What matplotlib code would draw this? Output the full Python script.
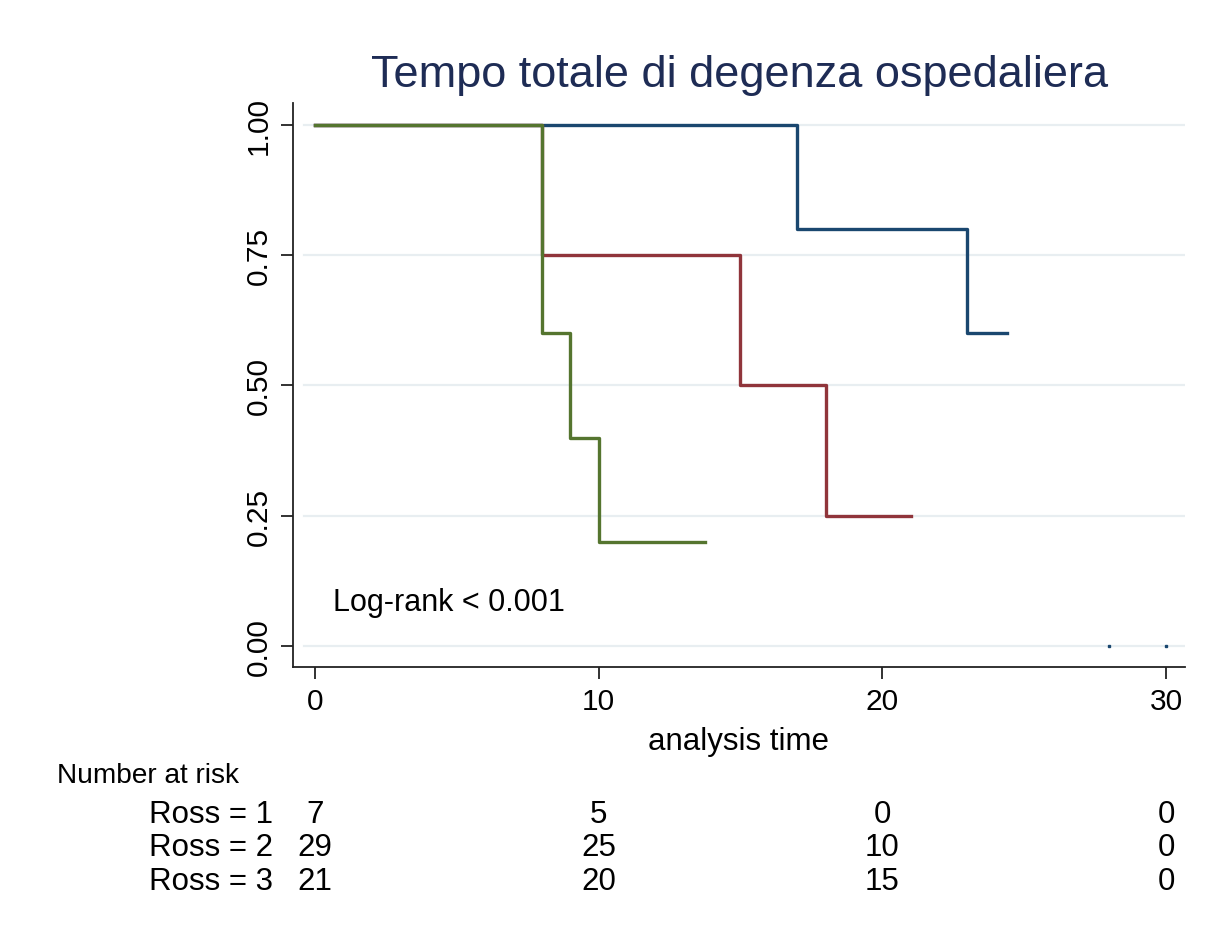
import matplotlib
matplotlib.use("Agg")
import matplotlib.pyplot as plt

plt.rcParams['font.family'] = ['Liberation Sans', 'DejaVu Sans']

title = "Tempo totale di degenza ospedaliera"
xlabel = "analysis time"
annotation = "Log-rank < 0.001"

# Kaplan-Meier step data (time, survival)
ross1_t = [0, 17, 23, 24.4]
ross1_s = [1.0, 0.8, 0.6, 0.6]
ross2_t = [0, 8, 15, 18, 21]
ross2_s = [1.0, 0.75, 0.5, 0.25, 0.25]
ross3_t = [0, 8, 9, 10, 13.75]
ross3_s = [1.0, 0.6, 0.4, 0.2, 0.2]
censor_t = [28, 30]
censor_s = [0.0, 0.0]

xticks = [0, 10, 20, 30]
yticks = [0.0, 0.25, 0.5, 0.75, 1.0]
ytick_labels = ["0.00", "0.25", "0.50", "0.75", "1.00"]

risk_groups = ["Ross = 1", "Ross = 2", "Ross = 3"]
risk_times = [0, 10, 20, 30]
risk_counts = [[7, 5, 0, 0], [29, 25, 10, 0], [21, 20, 15, 0]]

colors = ["#1a476f", "#90353b", "#55752f"]

W, H = 1211, 929
fig = plt.figure(figsize=(W / 100, H / 100), dpi=100)
ax = fig.add_axes([293 / W, 1 - 668 / H, (1185 - 293) / W, (668 - 104) / H])

ax.set_xlim(-0.7756, 30.67)
ax.set_ylim(-0.0403, 1.0422)

for y in yticks:
    ax.axhline(y, color="#e8eef1", lw=1.6, zorder=0, xmin=0.012, xmax=1.0)

lw = 2.4
ax.step(ross1_t, ross1_s, where="post", color=colors[0], lw=lw, zorder=2)
ax.step(ross2_t, ross2_s, where="post", color=colors[1], lw=lw, zorder=3)
ax.step(ross3_t, ross3_s, where="post", color=colors[2], lw=lw, zorder=4)
ax.plot(censor_t, censor_s, ls="none", marker="s", ms=1.5, color=colors[0], zorder=5)

for s in ["top", "right"]:
    ax.spines[s].set_visible(False)
for s in ["left", "bottom"]:
    ax.spines[s].set_linewidth(1.3)
    ax.spines[s].set_color("#222222")

ax.set_xticks(xticks)
ax.set_xticklabels([str(x) for x in xticks], fontsize=21.5)
ax.set_yticks(yticks)
ax.set_yticklabels(ytick_labels, fontsize=21.5, rotation=90, va="center")
ax.tick_params(axis="both", length=8.5, width=1.3, color="#222222", pad=6)
ax.set_xlabel(xlabel, fontsize=22.5, labelpad=8)

fig.text((372 + 1108) / 2 / W, 1 - 75 / H, title, fontsize=32.5, color="#1e2c55",
         ha="center", va="center")

ax.text(0.65, 0.085, annotation, fontsize=22, va="center", ha="left")

# Number at risk table
fig.text(57 / W, 1 - 776 / H, "Number at risk", fontsize=20.2, ha="left", va="center")
row_y = [815, 848, 882]
for gi, g in enumerate(risk_groups):
    fig.text(273 / W, 1 - row_y[gi] / H, g, fontsize=22.5, ha="right", va="center")
    for ti, t in enumerate(risk_times):
        xd = ax.transData.transform((t, 0))[0]
        xf = fig.transFigure.inverted().transform((xd, 0))[0]
        fig.text(xf, 1 - row_y[gi] / H, str(risk_counts[gi][ti]), fontsize=22.5,
                 ha="center", va="center")

fig.savefig("out.png", dpi=100, facecolor="white")
